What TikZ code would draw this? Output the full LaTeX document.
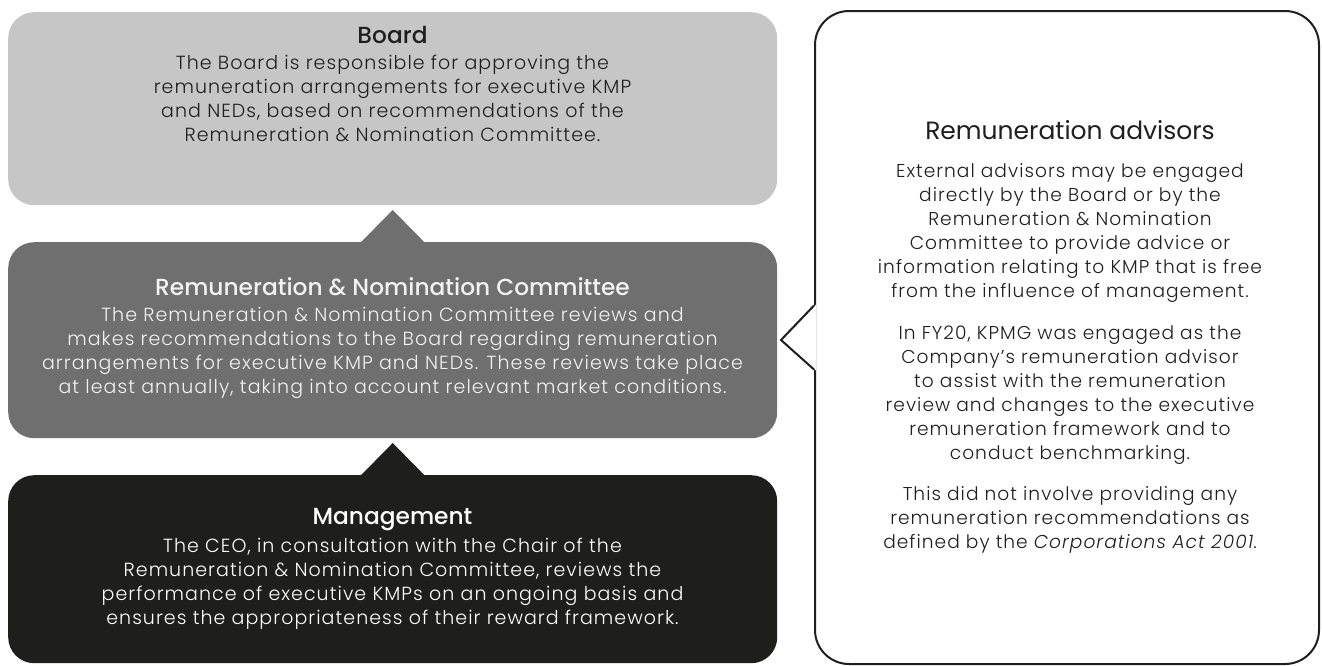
\documentclass[tikz,border=0pt]{standalone}
\usepackage{fontspec}
\setmainfont{Poppins}[UprightFont=* Light, BoldFont=* Medium, ItalicFont=* Light Italic]
\newfontfamily\headfont{Poppins}
\newfontfamily\bodyfont{Poppins}[UprightFont=* Light, ItalicFont=* Light Italic, LetterSpace=5.5]
\definecolor{boardgray}{HTML}{C6C6C6}
\definecolor{rncgray}{HTML}{6F6F6F}
\definecolor{mgmtblack}{HTML}{1E1E1C}
\definecolor{inkdark}{HTML}{1F1F1F}
\definecolor{inklight}{HTML}{F2F2F2}
\begin{document}
\begin{tikzpicture}[x=1pt,y=-1pt,
  tierbox/.style={rounded corners=26pt, minimum width=769pt, inner sep=0pt, anchor=north west},
  tiertitle/.style={font=\bfseries\fontsize{23.3}{26}\selectfont, inner sep=0pt},
  tierbody/.style={font=\bodyfont\fontsize{19}{24}\selectfont, align=center, inner sep=0pt},
  advbody/.style={font=\bodyfont\fontsize{18.6}{24}\selectfont, align=center, inner sep=0pt, text=inkdark}
]
\useasboundingbox (0,0) rectangle (1322,665);

% three reporting tiers
\node[tierbox, fill=boardgray, minimum height=193pt] (board) at (8,12) {};
\node[tierbox, fill=rncgray, minimum height=196pt] (rnc) at (8,242) {};
\node[tierbox, fill=mgmtblack, minimum height=188pt] (mgmt) at (8,475) {};

% upward pointers between tiers
\fill[rncgray] (rnc.north) ++(-31.5,0) -- ++(31.5,-32) -- ++(31.5,32) -- cycle;
\fill[mgmtblack] (mgmt.north) ++(-31.5,0) -- ++(31.5,-32) -- ++(31.5,32) -- cycle;

% tier texts
\node[tiertitle, text=inkdark] (boardtitle) at (392.5,35) {Board};
\node[tierbody, text=inkdark] (boardtext) at (392.5,98) {The Board is responsible for approving the\\remuneration arrangements for executive KMP\\and NEDs, based on recommendations of the\\Remuneration \& Nomination Committee.};

\node[tiertitle, text=inklight] (rnctitle) at (392.5,287) {Remuneration \& Nomination Committee};
\node[tierbody, text=inklight] (rnctext) at (392.5,352.5) {The Remuneration \& Nomination Committee reviews and\\makes recommendations to the Board regarding remuneration\\arrangements for executive KMP and NEDs. These reviews take place\\at least annually, taking into account relevant market conditions.};

\node[tiertitle, text=white] (mgmttitle) at (392.5,520) {Management};
\node[tierbody, text=white] (mgmttext) at (392.5,584) {The CEO, in consultation with the Chair of the\\Remuneration \& Nomination Committee, reviews the\\performance of executive KMPs on an ongoing basis and\\ensures the appropriateness of their reward framework.};

% advisors callout
\node[draw=inkdark, line width=2pt, fill=white, rounded corners=34pt, minimum width=504pt, minimum height=653pt, anchor=north west, inner sep=0pt] (adv) at (814,10) {};
\coordinate (tip) at (781,340);
\fill[white] ([yshift=-33pt,xshift=2pt]adv.west) -- (tip) -- ([yshift=33pt,xshift=2pt]adv.west) -- cycle;
\draw[inkdark, line width=2pt, line join=miter] ([yshift=-32pt]adv.west) -- (tip) -- ([yshift=32pt]adv.west);

\node[inner sep=0pt, text=inkdark, font=\headfont\fontsize{25}{28}\selectfont] (advtitle) at (1070,130) {Remuneration advisors};
\node[advbody] (advp1) at (1070,233) {External advisors may be engaged\\directly by the Board or by the\\Remuneration \& Nomination\\Committee to provide advice or\\information relating to KMP that is free\\from the influence of management.};
\node[advbody] (advp2) at (1070,395) {In FY20, KPMG was engaged as the\\Company’s remuneration advisor\\to assist with the remuneration\\review and changes to the executive\\remuneration framework and to\\conduct benchmarking.};
\node[advbody] (advp3) at (1070,520) {This did not involve providing any\\remuneration recommendations as\\defined by the \textit{Corporations Act 2001}.};
\end{tikzpicture}
\end{document}
